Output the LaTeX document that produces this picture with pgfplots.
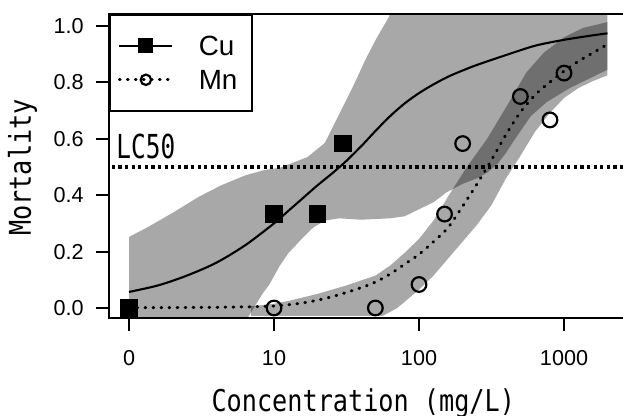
\documentclass[border=0pt]{standalone}
\usepackage{pgfplots}
\pgfplotsset{compat=1.18}
\usepackage{fontspec}
\setmainfont{Liberation Sans}
\newfontfamily\gothic[FakeStretch=0.84]{DejaVu Sans Mono}
\newfontfamily\gothicB[FakeStretch=0.74]{DejaVu Sans Mono}
\begin{document}
\begin{tikzpicture}
\begin{axis}[
  at={(0,0)}, anchor=south west,
  scale only axis, width=260pt, height=152pt,
  xmode=log, xmin=0.7278, xmax=2807,
  ymin=-0.0355, ymax=1.0426,
  xtick={1,10,100,1000}, xticklabels={0,10,100,1000},
  xminorticks=false, yminorticks=false,
  ytick={0,0.2,0.4,0.6,0.8,1.0}, yticklabels={0.0,0.2,0.4,0.6,0.8,1.0},
  xtick pos=bottom, ytick pos=left,
  tick align=outside,
  major tick length=6.5pt,
  axis line style={line width=1pt},
  tick style={black, line width=1pt},
  yticklabel style={font=\fontsize{10.8}{12}\selectfont, inner sep=0pt, anchor=east, xshift=-6pt},
  xticklabel style={font=\fontsize{10.8}{12}\selectfont, inner sep=0pt, anchor=north, yshift=-9.3pt},
  xlabel={Concentration (mg/L)},
  ylabel={Mortality},
  xlabel style={font=\gothic\fontsize{15}{18}\selectfont, at={(axis description cs:0.489,-0.306)}, anchor=base, inner sep=0pt},
  ylabel style={font=\gothic\fontsize{15}{18}\selectfont, at={(axis description cs:-0.15,0.495)}, anchor=base, inner sep=0pt},
  legend style={at={(0,1)}, anchor=north west, draw=black, line width=1pt, fill=white,
    inner xsep=4pt, inner ysep=10.5pt, font=\fontsize{13.9}{16}\selectfont,
    row sep=7.2pt, column sep=12.5pt,
    nodes={inner sep=0pt, text height=9.8pt, text depth=0pt, text width=22.5pt, anchor=base west},
    row 1/.style={nodes={text height=13.8pt}}},
  legend cell align=left,
  legend image code/.code={\draw[mark repeat=2,mark phase=2,#1] plot coordinates {(0pt,4.9pt) (13.25pt,4.9pt) (26.5pt,4.9pt)};},
]
% Cu confidence band
\addplot[draw=none, fill=black, fill opacity=0.34, forget plot] coordinates {
 (1,0.252) (1.349,0.287) (1.995,0.337) (3.020,0.394) (4.365,0.436) (6.310,0.47) (8.710,0.49)
 (10.96,0.497) (12.02,0.505) (16.98,0.535) (22.39,0.585) (27.54,0.677) (34.67,0.78) (42.66,0.88)
 (50.12,0.95) (61.66,1.03) (70.79,1.1) (1995,1.1)
 (1995,0.845) (1514,0.815) (1096,0.78) (758.6,0.73) (588.8,0.68) (446.7,0.59) (398.1,0.55)
 (346.7,0.51) (295.1,0.48) (251.2,0.46) (199.5,0.44) (154.9,0.41) (125.9,0.375) (100,0.35)
 (79.43,0.325) (63.10,0.318) (39.81,0.313) (28.18,0.318) (22.39,0.31) (18.62,0.285) (15.85,0.25)
 (12.59,0.195) (10.96,0.15) (9.333,0.085) (8.318,0.05) (7.244,0.0) (6.310,-0.05) (6.026,-0.1) (1,-0.1)
} -- cycle;
% Mn confidence band
\addplot[draw=none, fill=black, fill opacity=0.34, forget plot] coordinates {
 (6.918,0.006) (10,0.015) (12.59,0.025) (19.95,0.05) (31.62,0.08) (50.12,0.115) (63.10,0.15)
 (79.43,0.195) (100,0.245) (125.9,0.31) (158.5,0.395) (213.8,0.5) (295.1,0.60) (407.4,0.72)
 (549.5,0.835) (724.4,0.905) (1000,0.96) (1349,0.993) (1995,1.014)
 (1995,0.825) (1585,0.805) (1259,0.78) (1000,0.745) (794.3,0.69) (631,0.625) (501.2,0.54)
 (398.1,0.46) (316.2,0.365) (251.2,0.295) (199.5,0.235) (158.5,0.175) (125.9,0.115) (100,0.065)
 (83.18,0.03) (70.79,0.0) (56.23,-0.028) (6.918,-0.028)
} -- cycle;
% LC50 line
\addplot[black, line width=1.65pt, dash pattern=on 1.65pt off 1.65pt, forget plot] coordinates {(0.5,0.5) (4000,0.5)};
% Cu fitted curve
\addplot[black, line width=1.05pt, smooth, forget plot] coordinates {
 (1,0.057) (1.585,0.080) (2.512,0.115) (3.981,0.16) (6.310,0.222) (10,0.30) (12.59,0.345)
 (15.85,0.39) (19.95,0.435) (25.12,0.477) (31.62,0.522) (39.81,0.573) (50.12,0.628) (63.10,0.68)
 (79.43,0.725) (100,0.762) (125.9,0.793) (158.5,0.82) (199.5,0.842) (251.2,0.862) (398.1,0.897)
 (631,0.93) (1000,0.951) (1585,0.967) (1995,0.974)
};
% Mn fitted curve
\addplot[black, line width=1.5pt, dash pattern=on 0.4pt off 3.6pt, line cap=round, smooth, forget plot] coordinates {
 (1,0.001) (3.162,0.002) (6.310,0.004) (10,0.007) (15.85,0.018) (25.12,0.04) (39.81,0.072)
 (50.12,0.092) (63.10,0.12) (79.43,0.155) (100,0.19) (125.9,0.235) (158.5,0.285) (199.5,0.36)
 (251.2,0.44) (316.2,0.525) (398.1,0.615) (501.2,0.695) (631,0.755) (794.3,0.80) (1000,0.84)
 (1259,0.875) (1585,0.905) (1995,0.935)
};
% Cu observations
\addplot[only marks, mark=square*, mark size=4.1pt, black, forget plot, mark options={line width=0pt}] coordinates {
 (1,0) (10,0.333) (20,0.333) (30,0.583)
};
% Mn observations
\addplot[only marks, mark=o, mark size=3.67pt, black, line width=1.1pt, forget plot] coordinates {
 (1,0) (10,0) (50,0) (100,0.0833) (150,0.333) (200,0.583) (500,0.75) (800,0.667) (1000,0.833)
};
\addlegendimage{black, line width=1pt, mark=square*, mark size=3.25pt, mark options={solid}}
\addlegendentry{Cu}
\addlegendimage{black, line width=1.4pt, dash pattern=on 0.4pt off 3.6pt, line cap=round, mark=o, mark size=2.6pt, mark options={solid, line width=1.1pt}}
\addlegendentry{Mn}
\node[anchor=base west, inner sep=0pt, xshift=3.5pt, font=\gothicB\fontsize{16.5}{18}\selectfont] at (rel axis cs:0,0.526) {LC50};
\end{axis}
\pgfresetboundingbox
\useasboundingbox (-54.5pt,-49pt) rectangle (257pt,159pt);
\end{tikzpicture}
\end{document}
